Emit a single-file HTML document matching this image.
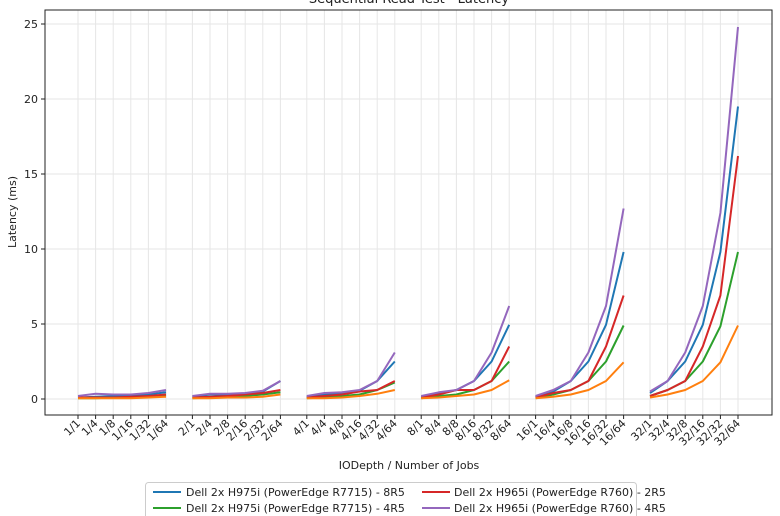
<!DOCTYPE html>
<html><head><meta charset="utf-8"><style>
html,body{margin:0;padding:0;background:#fff;}
svg{display:block;font-family:"DejaVu Sans","Liberation Sans",sans-serif;}
</style></head><body>
<svg id="s" width="780" height="516" viewBox="0 0 780 516" xmlns="http://www.w3.org/2000/svg">
<rect width="780" height="516" fill="#fff"/>
<text x="409" y="3" font-size="13" text-anchor="middle" fill="#222">Sequential Read Test - Latency</text>
<g id="grid"></g>
<g id="lines"></g>
<rect x="45" y="10" width="727" height="405" fill="none" stroke="#222" stroke-width="1"/>
<g id="ticks"></g>
<text x="409" y="469" font-size="11" text-anchor="middle" fill="#222">IODepth / Number of Jobs</text>
<text transform="translate(16,212) rotate(-90)" font-size="11" text-anchor="middle" fill="#222">Latency (ms)</text>
<g>
<rect x="145.5" y="482.5" width="491" height="40" rx="3" fill="#fff" stroke="#ccc"/>
<line x1="153" y1="492" x2="181" y2="492" stroke="#1f77b4" stroke-width="2"/>
<text x="186" y="496" font-size="11" fill="#222">Dell 2x H975i (PowerEdge R7715) - 8R5</text>
<line x1="153" y1="508" x2="181" y2="508" stroke="#2ca02c" stroke-width="2"/>
<text x="186" y="512" font-size="11" fill="#222">Dell 2x H975i (PowerEdge R7715) - 4R5</text>
<line x1="422" y1="492" x2="450" y2="492" stroke="#d62728" stroke-width="2"/>
<text x="454" y="496" font-size="11" fill="#222">Dell 2x H965i (PowerEdge R760) - 2R5</text>
<line x1="422" y1="508" x2="450" y2="508" stroke="#9467bd" stroke-width="2"/>
<text x="454" y="512" font-size="11" fill="#222">Dell 2x H965i (PowerEdge R760) - 4R5</text>
</g>
</svg>
<script>
var NS="http://www.w3.org/2000/svg";
function el(p,t,a,txt){var e=document.createElementNS(NS,t);for(var k in a)e.setAttribute(k,a[k]);if(txt!=null)e.textContent=txt;document.getElementById(p).appendChild(e);return e;}
function X(g,j){return 78+17.6*(j+6.5*g);}
function Y(v){return 399-15*v;}
var G=[1,2,4,8,16,32],J=[1,4,8,16,32,64];
for(var v=0;v<=25;v+=5){var y=Y(v);el("grid","line",{x1:45,x2:772,y1:y,y2:y,stroke:"#e6e6e6","stroke-width":1});
el("ticks","line",{x1:41,x2:45,y1:y,y2:y,stroke:"#222"});
el("ticks","text",{x:38,y:y+4,"font-size":11,"text-anchor":"end",fill:"#222"},""+v);}
for(var g=0;g<6;g++)for(var j=0;j<6;j++){var x=X(g,j);
el("grid","line",{x1:x,x2:x,y1:10,y2:415,stroke:"#e6e6e6","stroke-width":1});
el("ticks","line",{x1:x,x2:x,y1:415,y2:419,stroke:"#222"});
el("ticks","text",{transform:"translate("+(x+3)+",424) rotate(-45)","font-size":11,"text-anchor":"end",fill:"#222"},G[g]+"/"+J[j]);}
var D={
"#1f77b4":[[.1,.15,.2,.2,.3,.45],[.15,.3,.3,.35,.5,1.2],[.15,.3,.4,.55,1.2,2.5],[.15,.35,.6,1.2,2.5,4.95],[.15,.5,1.2,2.5,4.95,9.8],[.4,1.2,2.5,4.95,9.8,19.5]],
"#2ca02c":[[.05,.05,.1,.1,.15,.25],[.05,.1,.15,.2,.3,.45],[.05,.1,.2,.3,.6,1.1],[.05,.2,.3,.6,1.2,2.5],[.05,.3,.6,1.2,2.5,4.9],[.2,.6,1.2,2.5,4.85,9.8]],
"#d62728":[[.1,.1,.1,.15,.2,.3],[.1,.15,.2,.3,.4,.6],[.1,.2,.3,.5,.6,1.2],[.1,.3,.6,.6,1.2,3.5],[.1,.4,.6,1.2,3.5,6.9],[.2,.6,1.2,3.5,6.9,16.2]],
"#ff7f0e":[[.05,.05,.05,.05,.1,.15],[.05,.05,.1,.1,.15,.3],[.05,.05,.1,.2,.35,.6],[.05,.1,.2,.3,.6,1.25],[.05,.15,.3,.6,1.2,2.45],[.1,.3,.6,1.2,2.45,4.9]],
"#9467bd":[[.2,.35,.3,.3,.4,.6],[.2,.35,.35,.4,.55,1.2],[.2,.4,.45,.6,1.2,3.1],[.2,.45,.6,1.2,3.1,6.2],[.2,.6,1.2,3.1,6.2,12.7],[.5,1.2,3.1,6.2,12.4,24.8]]};
for(var c in D)for(var g=0;g<6;g++){var p=[];for(var j=0;j<6;j++)p.push(X(g,j).toFixed(1)+","+Y(D[c][g][j]).toFixed(1));
el("lines","polyline",{points:p.join(" "),fill:"none",stroke:c,"stroke-width":2,"stroke-linejoin":"round"});}
</script>
</body></html>
